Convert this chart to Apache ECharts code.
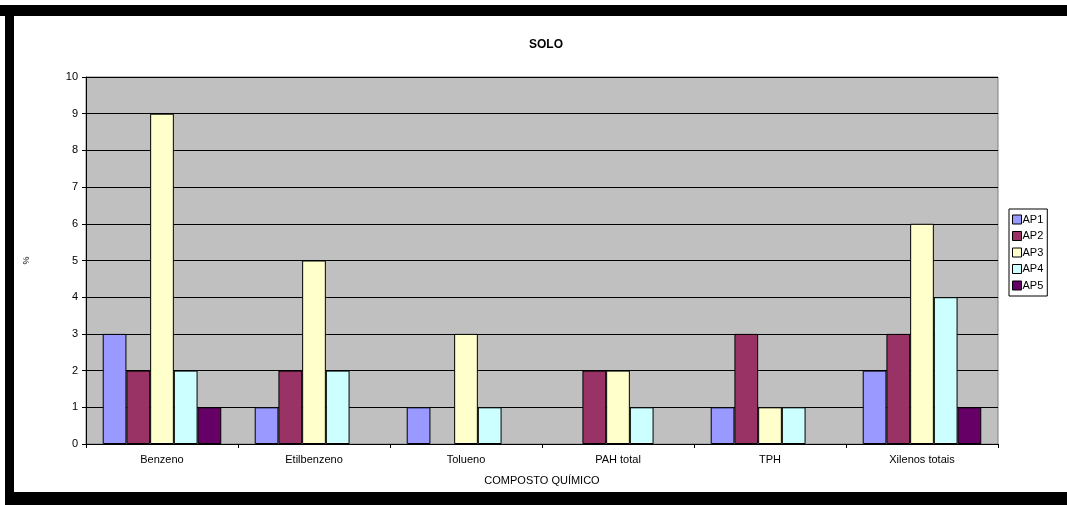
<!DOCTYPE html>
<html lang="pt">
<head>
    <meta charset="UTF-8">
    <title>SOLO</title>
    <style>
        html, body { margin: 0; padding: 0; background: #fff; }
    </style>
</head>
<body>

    <div id="echarts" style="width: 1067px; height: 505px"></div>
    <script src="https://cdn.jsdelivr.net/npm/echarts@6/dist/echarts.min.js"></script>
    <script>
        // dados
        const categories = ['Benzeno', 'Etilbenzeno', 'Tolueno', 'PAH total', 'TPH', 'Xilenos totais'];
        const seriesNames = ['AP1', 'AP2', 'AP3', 'AP4', 'AP5'];
        const ap1 = [3, 1, 1, 0, 1, 2];
        const ap2 = [2, 2, 0, 2, 3, 3];
        const ap3 = [9, 5, 3, 2, 1, 6];
        const ap4 = [2, 2, 1, 1, 1, 4];
        const ap5 = [1, 0, 0, 0, 0, 1];
        const yTicks = [0, 1, 2, 3, 4, 5, 6, 7, 8, 9, 10];

        const colors = ['#9999FF', '#993366', '#FFFFCC', '#CCFFFF', '#660066'];
        const values = [ap1, ap2, ap3, ap4, ap5];
        const font = 'Liberation Sans, Arial, sans-serif';

        const option = {
            animation: false,
            title: {
                text: 'SOLO',
                left: 541,
                top: 34,
                textAlign: 'center',
                textStyle: { fontFamily: font, fontSize: 12, fontWeight: 'bold', color: '#000' }
            },
            legend: {
                orient: 'vertical',
                left: 1009,
                top: 209,
                width: 47,
                padding: [5, 4, 5, 3],
                itemGap: 5.5,
                itemWidth: 9,
                itemHeight: 9,
                borderColor: '#000',
                borderWidth: 1,
                backgroundColor: '#fff',
                icon: 'rect',
                itemStyle: { borderColor: '#000', borderWidth: 1 },
                textStyle: { fontFamily: font, fontSize: 11, color: '#000', padding: [0, 0, 0, -4] },
                data: seriesNames
            },
            grid: {
                left: 86,
                right: 69,
                top: 77,
                bottom: 61,
                show: true,
                backgroundColor: '#C0C0C0',
                borderColor: '#808080',
                borderWidth: 1
            },
            xAxis: {
                type: 'category',
                data: categories,
                name: 'COMPOSTO QUÍMICO',
                nameLocation: 'middle',
                nameGap: 31,
                nameTextStyle: { fontFamily: font, fontSize: 11, color: '#000' },
                axisLine: { lineStyle: { color: '#000', width: 1 } },
                axisTick: { show: true, length: 4, lineStyle: { color: '#000' } },
                axisLabel: { fontFamily: font, fontSize: 11, color: '#000', margin: 10 }
            },
            yAxis: {
                type: 'value',
                min: yTicks[0],
                max: yTicks[yTicks.length - 1],
                interval: 1,
                name: '%',
                nameLocation: 'middle',
                nameGap: 55,
                nameRotate: 90,
                nameTextStyle: { fontFamily: font, fontSize: 9, color: '#000' },
                axisLine: { show: true, lineStyle: { color: '#000', width: 1 } },
                axisTick: { show: true, length: 4, lineStyle: { color: '#000' } },
                axisLabel: { fontFamily: font, fontSize: 11, color: '#000', margin: 8 },
                splitLine: { show: true, lineStyle: { color: '#000', width: 1 } }
            },
            series: seriesNames.map((name, i) => ({
                name: name,
                type: 'bar',
                barGap: 0,
                barCategoryGap: '22%',
                data: values[i].map(v => (v === 0 ? '-' : v)),
                itemStyle: { color: colors[i], borderColor: '#000', borderWidth: 1 }
            })),
            graphic: [
                { type: 'rect', shape: { x: 0, y: 5, width: 1067, height: 11 }, style: { fill: '#000' } },
                { type: 'rect', shape: { x: 5, y: 5, width: 9, height: 500 }, style: { fill: '#000' } },
                { type: 'rect', shape: { x: 5, y: 492, width: 1062, height: 13 }, style: { fill: '#000' } }
            ]
        };

        var chartDom = document.getElementById("echarts");
        var myChart = echarts.init(chartDom);
        myChart.setOption(option);
    </script>
</body>
</html>
